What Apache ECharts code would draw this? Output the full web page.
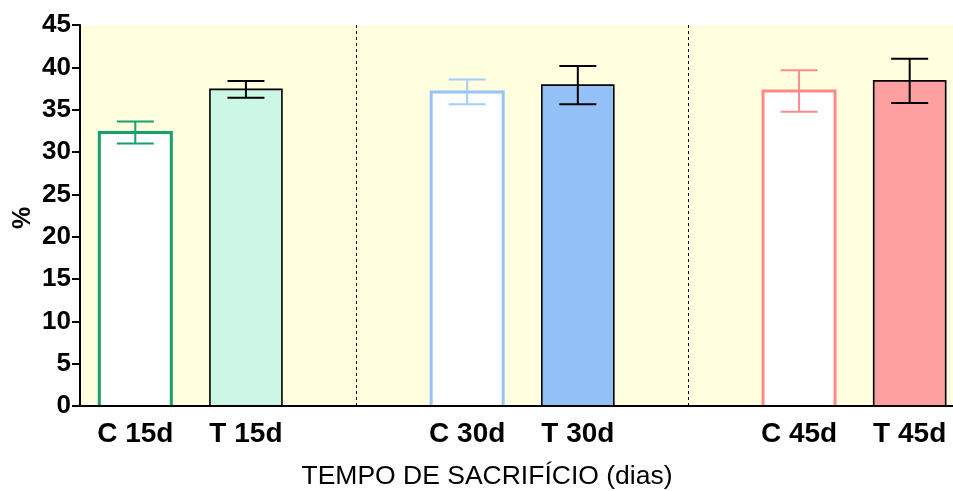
<!DOCTYPE html>
<html><head><meta charset="utf-8">
<script src="https://cdn.jsdelivr.net/npm/echarts@6/dist/echarts.min.js"></script>
<style>html,body{margin:0;padding:0;background:#fff}#c{width:953px;height:491px}</style>
</head><body><div id="c"></div>
<script>
// ---- data ----
const categories = ['C 15d', 'T 15d', ' ', 'C 30d', 'T 30d', '  ', 'C 45d', 'T 45d'];
const means = [32.3, 37.4, null, 37.1, 37.9, null, 37.2, 38.4];
const errors = [1.3, 1.0, null, 1.45, 2.25, null, 2.45, 2.6];
const separatorIndices = [2, 5];
const yTicks = [0, 5, 10, 15, 20, 25, 30, 35, 40, 45];
const yLabel = '%';
const xTitle = 'TEMPO DE SACRIFÍCIO (dias)';

// ---- styles ----
const BAR_W = 72;
const fillColors = ['#ffffff', '#ccf7e4', null, '#ffffff', '#94c0f8', null, '#ffffff', '#ffa0a0'];
const borderColors = ['#17a06d', '#000000', null, '#96c3f8', '#000000', null, '#ff8888', '#000000'];
const borderWidths = [3, 1.6, 0, 3, 1.6, 0, 3, 1.6];
const errColors = ['#17a06d', '#000000', null, '#a6ccf8', '#000000', null, '#ff8c8c', '#000000'];

const chart = echarts.init(document.getElementById('c'), null, {renderer: 'canvas'});

const barData = means.map((v, i) => v == null ? '-' : {
  value: v, itemStyle: {color: fillColors[i], borderWidth: 0}
});
const errData = means.map((v, i) => v == null ? null : [i, v, errors[i]]).filter(d => d);

chart.setOption({
  animation: false,
  grid: {left: 80, width: 885, top: 25, bottom: 85, show: true, backgroundColor: '#ffffe0', borderWidth: 0,
    outerBoundsMode: 'none', containLabel: false},
  xAxis: {
    type: 'category', data: categories, z: 10,
    axisLine: {lineStyle: {color: '#000', width: 2}},
    axisTick: {alignWithLabel: true, interval: 0, length: 10, lineStyle: {color: '#000', width: 1.5}},
    axisLabel: {interval: 0, color: '#000', fontFamily: 'Liberation Sans, Arial', fontWeight: 'bold', fontSize: 28, margin: 14},
    splitLine: {show: false}
  },
  yAxis: {
    type: 'value', min: yTicks[0], max: yTicks[yTicks.length - 1], interval: yTicks[1] - yTicks[0], z: 10,
    axisLine: {show: true, lineStyle: {color: '#000', width: 2}},
    axisTick: {show: true, length: 8, lineStyle: {color: '#000', width: 2}},
    axisLabel: {color: '#000', fontFamily: '"Liberation Sans", Arial', fontWeight: 'bold', fontSize: 26, margin: 9},
    splitLine: {show: false}
  },
  graphic: [
    {type: 'text', x: 23, y: 218, rotation: Math.PI / 2,
      style: {text: yLabel, fill: '#000', font: 'bold 25px "Liberation Sans", Arial', textAlign: 'center', textVerticalAlign: 'middle'}},
    {type: 'text', x: 487, y: 477,
      style: {text: xTitle, fill: '#000', font: '26.5px "Liberation Sans", Arial', textAlign: 'center', textVerticalAlign: 'middle'}}
  ],
  series: [
    {
      type: 'bar', data: barData, barWidth: BAR_W, barGap: '-100%',
      markLine: {
        silent: true, symbol: 'none', label: {show: false},
        lineStyle: {color: '#000', type: [3, 3], width: 1},
        data: separatorIndices.map(i => ({xAxis: i}))
      }
    },
    {
      type: 'custom', data: errData,
      encode: {x: 0, y: 1},
      renderItem: function (params, api) {
        const idx = api.value(0), m = api.value(1), e = api.value(2);
        const top = api.coord([idx, m + e]);
        const bot = api.coord([idx, m - e]);
        const base = api.coord([idx, 0]);
        const mid = api.coord([idx, m]);
        const hw = BAR_W / 2;
        const half = 18.5;
        const col = errColors[idx];
        const st = {stroke: col, lineWidth: 2};
        return {
          type: 'group', children: [
            {type: 'polyline', shape: {points: [[mid[0] - hw, base[1]], [mid[0] - hw, mid[1]], [mid[0] + hw, mid[1]], [mid[0] + hw, base[1]]]},
              style: {stroke: borderColors[idx], lineWidth: borderWidths[idx], fill: null, lineJoin: 'miter'}},
            {type: 'line', shape: {x1: top[0], y1: top[1], x2: bot[0], y2: bot[1]}, style: st},
            {type: 'line', shape: {x1: top[0] - half, y1: top[1], x2: top[0] + half, y2: top[1]}, style: st},
            {type: 'line', shape: {x1: bot[0] - half, y1: bot[1], x2: bot[0] + half, y2: bot[1]}, style: st}
          ]
        };
      },
      z: 5
    }
  ]
});
</script></body></html>
